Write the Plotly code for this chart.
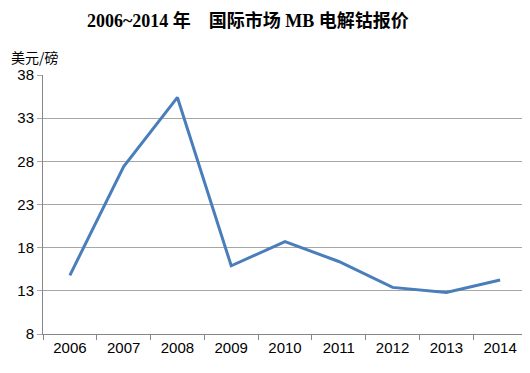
import plotly.graph_objects as go

years = ["2006", "2007", "2008", "2009", "2010", "2011", "2012", "2013", "2014"]
prices = [14.8, 27.4, 35.4, 15.9, 18.7, 16.4, 13.4, 12.8, 14.25]
y_ticks = [8, 13, 18, 23, 28, 33, 38]

# page has an 8px body margin; work in page pixels and offset
OFF = 8
W, H = 530 - OFF, 373 - OFF
l, r, t, b = 43 - OFF, 3, 75 - OFF, 39
pw, ph = W - l - r, H - t - b


def px(xp, yp):
    return (xp - OFF - l) / pw, (H - b - (yp - OFF)) / ph


fig = go.Figure()
fig.add_trace(go.Scatter(
    x=years, y=prices, mode="lines",
    line=dict(color="#4a7ebb", width=3),
    hoverinfo="skip",
))

tx, ty = px(248, 21)
lx, ly = px(9, 57)
fig.update_layout(
    width=W, height=H,
    margin=dict(l=l, r=r, t=t, b=b),
    paper_bgcolor="white", plot_bgcolor="white",
    showlegend=False,
    font=dict(family="Liberation Sans, Arial, sans-serif", size=15, color="black"),
    annotations=[
        dict(text="<b>2006~2014 年　国际市场 MB 电解钴报价</b>",
             x=tx, y=ty, xref="paper", yref="paper", showarrow=False,
             xanchor="center", yanchor="middle",
             font=dict(family="Liberation Serif, Noto Sans CJK SC, serif", size=18, color="black")),
        dict(text="美元/磅", x=lx, y=ly, xref="paper", yref="paper", showarrow=False,
             xanchor="left", yanchor="middle",
             font=dict(family="Noto Sans CJK SC, sans-serif", size=14, color="black")),
    ],
)

fig.update_xaxes(
    type="category", showgrid=False, showline=True, linecolor="#868686", linewidth=1,
    ticks="outside", tickson="boundaries", ticklen=5, tickcolor="#868686",
    tickfont=dict(size=15), range=[-0.5, 8.5],
)
fig.update_yaxes(
    range=[8, 38], tickvals=y_ticks, showgrid=True, gridcolor="#a6a6a6", gridwidth=1,
    showline=True, linecolor="#868686", linewidth=1, ticks="outside", ticklen=5,
    tickcolor="#a6a6a6", zeroline=False, tickfont=dict(size=15),
)

fig.write_html("out.html")
